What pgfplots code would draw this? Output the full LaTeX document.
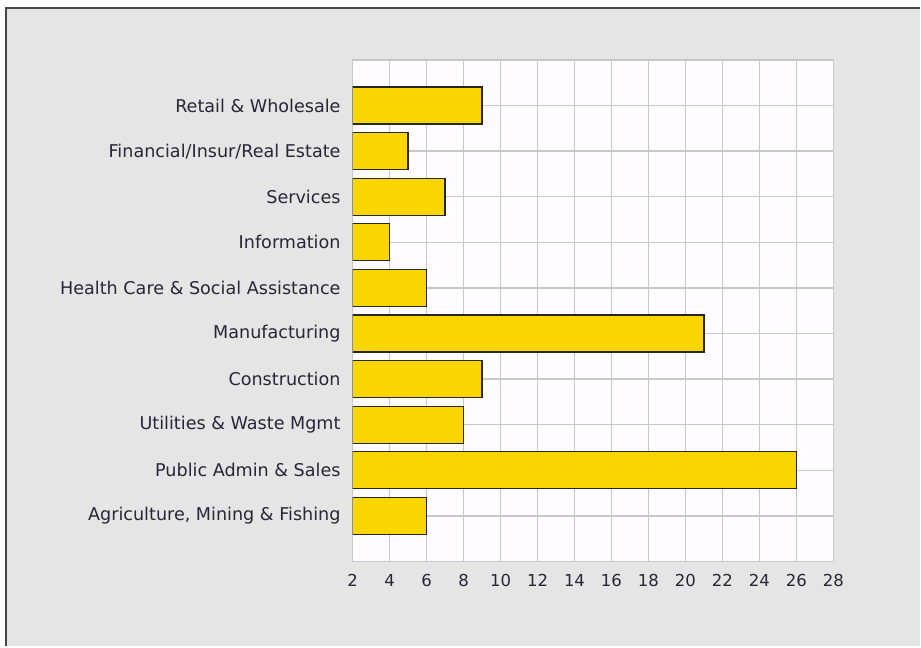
\documentclass[border=0pt]{standalone}
\usepackage{pgfplots}
\pgfplotsset{compat=1.18}
\usepackage{fontspec}
\setmainfont{DejaVu Sans}
\definecolor{bgray}{RGB}{229,229,229}
\definecolor{frame}{RGB}{70,70,70}
\definecolor{gridc}{RGB}{200,200,200}
\definecolor{plotbg}{RGB}{255,252,255}
\definecolor{baryel}{RGB}{250,214,0}
\definecolor{txt}{RGB}{40,38,55}
\begin{document}
\begin{tikzpicture}[x=1pt,y=1pt]
\fill[white] (0,0) rectangle (921,647);
\fill[bgray] (6,0) rectangle (921,639);
\draw[frame, line width=1.6pt] (6,0) -- (6,639) -- (921,639);
\begin{axis}[
  at={(353pt,85pt)}, anchor=south west,
  scale only axis, width=481pt, height=502pt,
  xmin=2, xmax=28, ymin=-1, ymax=10,
  xtick={2,4,...,28},
  ytick={0,...,9},
  yticklabels={{Agriculture, Mining \& Fishing}, Public Admin \& Sales, Utilities \& Waste Mgmt, Construction, Manufacturing, Health Care \& Social Assistance, Information, Services, Financial/Insur/Real Estate, Retail \& Wholesale},
  major tick length=0pt,
  grid=major,
  major grid style={gridc, line width=1.3pt},
  axis line style={gridc, line width=1.3pt},
  axis background/.style={fill=plotbg},
  /pgf/number format/assume math mode=true,
  tick label style={text=txt, inner sep=0pt},
  xticklabel style={font=\fontsize{16.5}{19}\selectfont},
  yticklabel style={font=\fontsize{17.6}{20}\selectfont},
  yticklabel shift=12pt,
  xticklabel shift=13pt,
  xbar, bar width=37pt, bar shift=0pt,
]
\addplot[fill=baryel, draw=black!85, line width=1.3pt] coordinates {
 (6,0) (26,1) (8,2) (9,3) (21,4) (6,5) (4,6) (7,7) (5,8) (9,9)
};
\end{axis}
\end{tikzpicture}
\end{document}
